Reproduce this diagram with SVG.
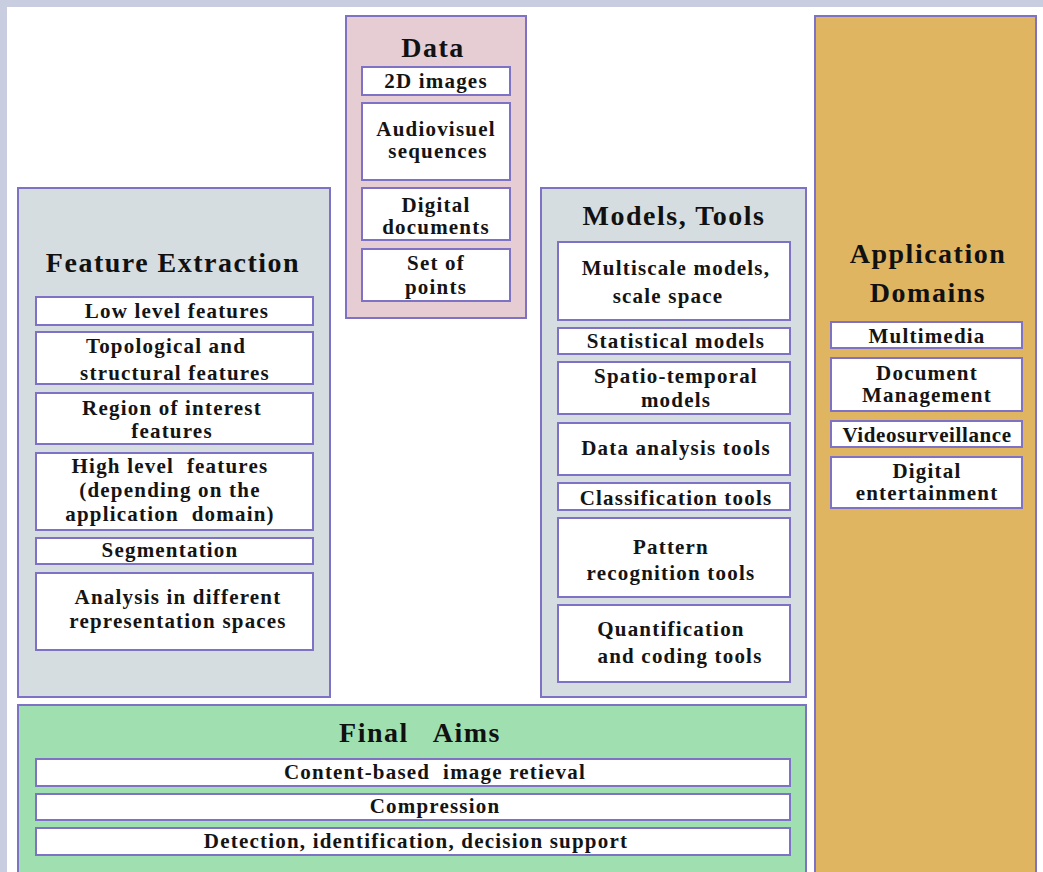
<svg xmlns="http://www.w3.org/2000/svg" width="1043" height="872" viewBox="0 0 1043 872">
<style>
.panel{stroke:#7d72c6;stroke-width:2}
.box{fill:#ffffff;stroke:#7d72c6;stroke-width:2}
.t{font-family:"Liberation Serif","Times New Roman",serif;font-weight:bold;font-size:21px;letter-spacing:1.2px;fill:#141414;text-anchor:middle}
.h{font-family:"Liberation Serif","Times New Roman",serif;font-weight:bold;font-size:28px;letter-spacing:1.5px;fill:#111;text-anchor:middle}
</style>
<rect x="0" y="0" width="1043" height="872" fill="#c8cee0"/>
<rect x="7" y="7" width="1036" height="865" fill="#ffffff"/>
<g id="connectors"></g>
<g id="feature-extraction">
<rect class="panel" x="18" y="188" width="312" height="509" fill="#d5dde0"/>
<text class="h" x="173" y="272">Feature Extraction</text>
<rect class="box" x="36" y="297" width="277" height="28"/>
<text class="t" x="177" y="318">Low level features</text>
<rect class="box" x="36" y="332" width="277" height="52"/>
<text class="t" x="166" y="353">Topological and</text>
<text class="t" x="175" y="380">structural features</text>
<rect class="box" x="36" y="393" width="277" height="51"/>
<text class="t" x="172" y="415">Region of interest</text>
<text class="t" x="172" y="438">features</text>
<rect class="box" x="36" y="453" width="277" height="77"/>
<text class="t" x="170" y="473" xml:space="preserve">High level  features</text>
<text class="t" x="170" y="497">(depending on the</text>
<text class="t" x="170" y="521" xml:space="preserve">application  domain)</text>
<rect class="box" x="36" y="538" width="277" height="26"/>
<text class="t" x="170" y="557">Segmentation</text>
<rect class="box" x="36" y="573" width="277" height="77"/>
<text class="t" x="178" y="604">Analysis in different</text>
<text class="t" x="178" y="628">representation spaces</text>
</g>
<g id="data">
<rect class="panel" x="346" y="16" width="180" height="302" fill="#e6ccd3"/>
<text class="h" x="433" y="57">Data</text>
<rect class="box" x="362" y="67" width="148" height="28"/>
<text class="t" x="436" y="88">2D images</text>
<rect class="box" x="362" y="103" width="148" height="77"/>
<text class="t" x="436" y="136">Audiovisuel</text>
<text class="t" x="438" y="158">sequences</text>
<rect class="box" x="362" y="188" width="148" height="52"/>
<text class="t" x="436" y="212">Digital</text>
<text class="t" x="436" y="234">documents</text>
<rect class="box" x="362" y="249" width="148" height="52"/>
<text class="t" x="436" y="270">Set of</text>
<text class="t" x="436" y="294">points</text>
</g>
<g id="models-tools">
<rect class="panel" x="541" y="188" width="265" height="509" fill="#d5dde0"/>
<text class="h" x="674" y="225">Models, Tools</text>
<rect class="box" x="558" y="242" width="232" height="78"/>
<text class="t" x="676" y="275">Multiscale models,</text>
<text class="t" x="668" y="303">scale space</text>
<rect class="box" x="558" y="328" width="232" height="26"/>
<text class="t" x="676" y="348">Statistical models</text>
<rect class="box" x="558" y="362" width="232" height="52"/>
<text class="t" x="676" y="383">Spatio-temporal</text>
<text class="t" x="676" y="407">models</text>
<rect class="box" x="558" y="423" width="232" height="52"/>
<text class="t" x="676" y="455">Data analysis tools</text>
<rect class="box" x="558" y="483" width="232" height="27"/>
<text class="t" x="676" y="505">Classification tools</text>
<rect class="box" x="558" y="518" width="232" height="79"/>
<text class="t" x="671" y="554">Pattern</text>
<text class="t" x="671" y="580">recognition tools</text>
<rect class="box" x="558" y="605" width="232" height="77"/>
<text class="t" x="671" y="636">Quantification</text>
<text class="t" x="680" y="663">and coding tools</text>
</g>
<g id="application-domains">
<rect class="panel" x="815" y="16" width="221" height="860" fill="#dfb562"/>
<text class="h" x="928" y="263">Application</text>
<text class="h" x="928" y="302">Domains</text>
<rect class="box" x="831" y="322" width="191" height="26"/>
<text class="t" x="927" y="343">Multimedia</text>
<rect class="box" x="831" y="358" width="191" height="53"/>
<text class="t" x="927" y="380">Document</text>
<text class="t" x="927" y="402">Management</text>
<rect class="box" x="831" y="421" width="191" height="26"/>
<text class="t" x="927" y="442" style="letter-spacing:0.6px">Videosurveillance</text>
<rect class="box" x="831" y="457" width="191" height="51"/>
<text class="t" x="927" y="478">Digital</text>
<text class="t" x="927" y="500">entertainment</text>
</g>
<g id="final-aims">
<rect class="panel" x="18" y="705" width="788" height="170" fill="#a0e0b0"/>
<text class="h" x="420" y="742" xml:space="preserve">Final   Aims</text>
<rect class="box" x="36" y="759" width="754" height="27"/>
<text class="t" x="435" y="779" xml:space="preserve">Content-based  image retieval</text>
<rect class="box" x="36" y="794" width="754" height="26"/>
<text class="t" x="435" y="813">Compression</text>
<rect class="box" x="36" y="828" width="754" height="27"/>
<text class="t" x="416" y="848">Detection, identification, decision support</text>
</g>
</svg>
